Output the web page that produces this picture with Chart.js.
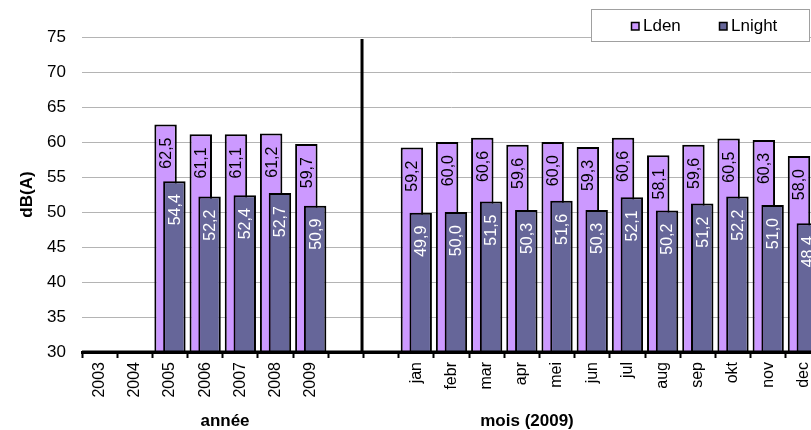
<!DOCTYPE html>
<html><head><meta charset="utf-8">
<script src="https://cdn.jsdelivr.net/npm/chart.js@4/dist/chart.umd.min.js"></script>
<style>
html,body{margin:0;padding:0;background:#fff;overflow:hidden;}
#wrap{width:811px;height:430px;overflow:hidden;position:relative;}
canvas{display:block;}
</style></head><body>
<div id="wrap"><canvas id="c" width="850" height="430" style="width:850px;height:430px"></canvas></div>
<script>
const categories = ['2003','2004','2005','2006','2007','2008','2009','','','jan','febr','mar','apr','mei','jun','jul','aug','sep','okt','nov','dec'];
const ldenValues = [null,null,62.5,61.1,61.1,61.2,59.7,null,null,59.2,60.0,60.6,59.6,60.0,59.3,60.6,58.1,59.6,60.5,60.3,58.0];
const lnightValues = [null,null,54.4,52.2,52.4,52.7,50.9,null,null,49.9,50.0,51.5,50.3,51.6,50.3,52.1,50.2,51.2,52.2,51.0,48.4];
const yTickValues = [30,35,40,45,50,55,60,65,70,75];
const seriesNames = ['Lden','Lnight'];
const yAxisTitle = 'dB(A)';
const yearTitle = 'année';
const monthTitle = 'mois (2009)';

const FONT = "'Liberation Sans', Arial, sans-serif";
const colors = ['#CC99FF', '#666699'];
const labelColors = ['#000000', '#FFFFFF'];

const fmt = v => v.toFixed(1).replace('.', ',');

const customDraw = {
  id: 'customDraw',
  beforeDatasetsDraw(chart) {
    const ctx = chart.ctx, a = chart.chartArea;
    ctx.save();
    ctx.beginPath();
    ctx.rect(a.left, a.top - 5, a.right - a.left, a.bottom - a.top + 5);
    ctx.clip();
    // draw Lden first, Lnight on top
    for (let i = 0; i < chart.data.datasets.length; i++) {
      const meta = chart.getDatasetMeta(i);
      if (meta.visible !== false) meta.controller.draw();
    }
    ctx.restore();
    return false;
  },
  afterDraw(chart) {
    const ctx = chart.ctx;
    const xs = chart.scales.x, ys = chart.scales.y;
    // redraw x axis line over bar bottoms
    ctx.save();
    ctx.strokeStyle = '#000';
    ctx.lineWidth = 3;
    ctx.beginPath();
    ctx.moveTo(chart.chartArea.left, ys.getPixelForValue(30));
    ctx.lineTo(chart.chartArea.right, ys.getPixelForValue(30));
    ctx.stroke();
    ctx.restore();
    // data labels
    chart.data.datasets.forEach((ds, di) => {
      const meta = chart.getDatasetMeta(di);
      meta.data.forEach((el, i) => {
        const v = ds.data[i];
        if (v === null || v === undefined) return;
        ctx.save();
        ctx.translate(el.x + 1, el.y + 13);
        ctx.rotate(-Math.PI / 2);
        ctx.font = '16px ' + FONT;
        ctx.fillStyle = labelColors[di];
        ctx.textAlign = 'right';
        ctx.textBaseline = 'middle';
        ctx.fillText(fmt(v), 0, 0);
        ctx.restore();
      });
    });
    // divider between years and months
    const dx = (xs.getPixelForValue(7) + xs.getPixelForValue(8)) / 2 - 1.5;
    ctx.save();
    ctx.strokeStyle = '#000';
    ctx.lineWidth = 3;
    ctx.beginPath();
    ctx.moveTo(dx, ys.getPixelForValue(74.7));
    ctx.lineTo(dx, ys.getPixelForValue(30));
    ctx.stroke();
    ctx.restore();
    // section titles
    ctx.save();
    ctx.font = 'bold 17px ' + FONT;
    ctx.fillStyle = '#000';
    ctx.textAlign = 'center';
    ctx.textBaseline = 'middle';
    ctx.fillText(yearTitle, 225, 421);
    ctx.fillText(monthTitle, 527, 421);
    ctx.restore();
    // legend
    ctx.save();
    ctx.fillStyle = '#fff';
    ctx.fillRect(591, 9, 219, 33);
    ctx.strokeStyle = '#a0a0a0';
    ctx.lineWidth = 1;
    ctx.strokeRect(591.5, 9.5, 218, 32);
    const items = [{x: 631, tx: 643}, {x: 719, tx: 731}];
    chart.data.datasets.forEach((ds, di) => {
      const it = items[di];
      ctx.fillStyle = colors[di];
      ctx.fillRect(it.x, 22, 8, 8);
      ctx.strokeStyle = '#000';
      ctx.lineWidth = 1.5;
      ctx.strokeRect(it.x + 0.5, 22.5, 7.5, 7.5);
      ctx.fillStyle = '#000';
      ctx.font = '17px ' + FONT;
      ctx.textAlign = 'left';
      ctx.textBaseline = 'middle';
      ctx.fillText(ds.label, it.tx, 26.5);
    });
    ctx.restore();
  }
};

const chart = new Chart(document.getElementById('c').getContext('2d'), {
  type: 'bar',
  data: {
    labels: categories,
    datasets: [
      {label: seriesNames[0], data: ldenValues, backgroundColor: colors[0], borderColor: '#000', borderWidth: 2,
       categoryPercentage: 0.5, barPercentage: 2.55},
      {label: seriesNames[1], data: lnightValues, backgroundColor: colors[1], borderColor: '#000', borderWidth: 2,
       categoryPercentage: 0.5, barPercentage: 2.55}
    ]
  },
  options: {
    responsive: false,
    animation: false,
    layout: {padding: {left: 0, right: 29, top: 37, bottom: 0}},
    plugins: {legend: {display: false}, tooltip: {enabled: false}},
    scales: {
      x: {
        grid: {display: true, drawOnChartArea: false, drawTicks: true, tickLength: 6, tickWidth: 2, tickColor: '#000', offset: true},
        border: {display: true, color: '#000', width: 3},
        ticks: {maxRotation: 90, minRotation: 90, autoSkip: false, color: '#000', padding: 4,
                font: {size: 16, family: FONT}},
        afterFit(s) { s.height = 78; }
      },
      y: {
        min: 30, max: 75,
        afterBuildTicks(s) { s.ticks = yTickValues.map(v => ({value: v})); },
        ticks: {color: '#000', padding: 16, font: {size: 17, family: FONT}},
        grid: {color: '#b4b4b4', lineWidth: 1, drawTicks: false},
        border: {display: false},
        title: {display: true, text: yAxisTitle, color: '#000', font: {size: 17, weight: 'bold', family: FONT, lineHeight: 1}, padding: {top: 19, bottom: 0}},
        afterFit(s) { s.width = 82; }
      }
    }
  },
  plugins: [customDraw]
});
</script>
</body></html>
